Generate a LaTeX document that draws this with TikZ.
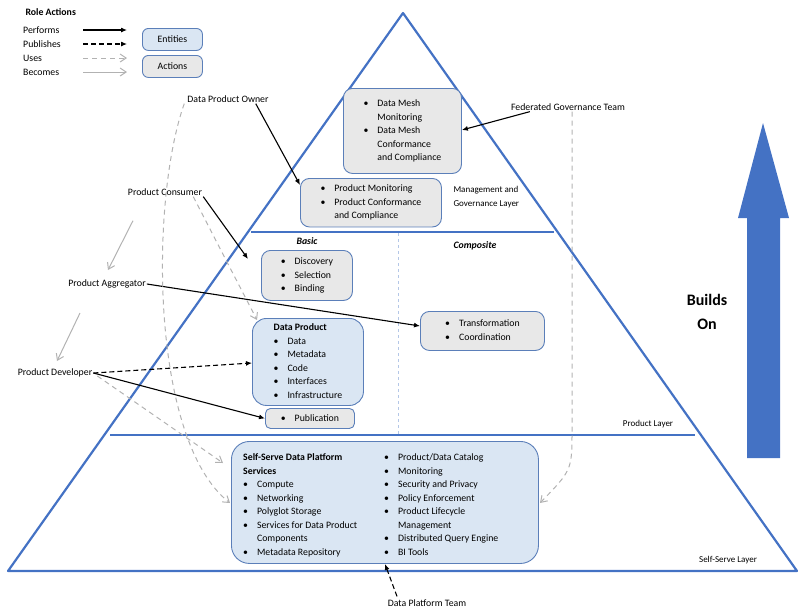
\documentclass[tikz,border=0pt]{standalone}
\usepackage{fontspec}
\setmainfont{Carlito}
\usetikzlibrary{arrows.meta,shapes.arrows}
\definecolor{tri}{HTML}{4472C4}
\definecolor{ent}{HTML}{DAE6F3}
\definecolor{act}{HTML}{E8E8E8}
\definecolor{bord}{HTML}{5B7FB9}
\newcommand{\bl}[1]{\textbullet&#1\\}
\newenvironment{bul}{\begin{tabular}{@{}l@{\hspace{9pt}}l@{}}}{\end{tabular}}
\begin{document}
\begin{tikzpicture}[x=1pt,y=-1pt,
  every node/.style={font=\fontsize{9.8}{13.5}\selectfont},
  box/.style={draw=bord,line width=0.9pt,rounded corners=9pt,inner sep=3pt,anchor=north west},
  ent/.style={box,fill=ent},
  act/.style={box,fill=act},
  perf/.style={-{Latex[length=6pt,width=5pt]},line width=1.1pt},
  pub/.style={perf,dashed,dash pattern=on 5pt off 3pt},
  uses/.style={-{Straight Barb[length=6pt,width=8pt]},gray!60,line width=1pt,dash pattern=on 5pt off 4pt},
  becomes/.style={-{Straight Barb[length=6pt,width=8pt]},gray!60,line width=1pt},
  lbl/.style={inner sep=1pt}]
\useasboundingbox (0,0) rectangle (802,614);
% pyramid
\draw[tri,line width=2.2pt,line join=round] (403,13) -- (797,571) -- (8,571) -- cycle;
\draw[tri,line width=2.2pt] (251,232) -- (554,232);
\draw[tri,line width=2.2pt] (110,435) -- (695,435);
\draw[tri!40,dashed,line width=0.8pt] (398,233) -- (398,434);
% legend
\node[anchor=west,font=\fontsize{9.8}{12}\selectfont\bfseries] (leg) at (22,12) {Role Actions};
\node[anchor=west,lbl] (lp) at (22,30) {Performs};
\node[anchor=west,lbl] (lb) at (22,44) {Publishes};
\node[anchor=west,lbl] (lu) at (22,58) {Uses};
\node[anchor=west,lbl] (lbc) at (22,72) {Becomes};
\coordinate (a1) at (83,30); \coordinate (b1) at (127,30);
\coordinate (a2) at (83,44); \coordinate (b2) at (127,44);
\coordinate (a3) at (83,58); \coordinate (b3) at (127,58);
\coordinate (a4) at (83,72); \coordinate (b4) at (127,72);
\draw[perf] (a1) -- (b1); \draw[pub] (a2) -- (b2);
\draw[uses] (a3) -- (b3); \draw[becomes] (a4) -- (b4);
\node[ent,minimum width=60pt,minimum height=22pt,rounded corners=6pt] (le) at (142,28) {};
\node at (le.center) {Entities};
\node[act,minimum width=60pt,minimum height=22pt,rounded corners=6pt] (la) at (142,55) {};
\node at (la.center) {Actions};
% boxes
\node[act,minimum width=118pt,minimum height=85pt,inner sep=6pt] (mesh) at (343,88) {\begin{bul}\bl{Data Mesh}&Monitoring\\\bl{Data Mesh}&Conformance\\&and Compliance\\\end{bul}};
\node[act,minimum width=141pt,minimum height=47pt,inner sep=4pt] (pm) at (300,178) {\begin{bul}\bl{Product Monitoring}\bl{Product Conformance}&and Compliance\\\end{bul}};
\node[act,minimum width=91pt,minimum height=50pt,inner sep=4pt] (disc) at (261,250) {\begin{bul}\bl{Discovery}\bl{Selection}\bl{Binding}\end{bul}};
\node[ent,minimum width=111pt,minimum height=87pt,inner sep=1pt,rounded corners=14pt] (dp) at (252,318) {\begin{tabular}{@{}l@{}}\textbf{Data Product}\\\begin{bul}\bl{Data}\bl{Metadata}\bl{Code}\bl{Interfaces}\bl{Infrastructure}\end{bul}\end{tabular}};
\node[act,minimum width=89pt,minimum height=20pt,inner sep=1pt,rounded corners=5pt] (publ) at (265,408) {\begin{bul}\bl{Publication}\end{bul}};
\node[act,minimum width=124pt,minimum height=39pt,inner sep=4pt] (trans) at (420,311) {\begin{bul}\bl{Transformation}\bl{Coordination}\end{bul}};
\node[ent,minimum width=307pt,minimum height=122pt,rounded corners=18pt] (ss) at (231,441) {};
\node[anchor=north west,inner sep=0pt,align=left] (ssl) at (243,451) {\begin{tabular}{@{}l@{\hspace{9pt}}l@{}}\multicolumn{2}{@{}l}{\textbf{Self-Serve Data Platform}}\\\multicolumn{2}{@{}l}{\textbf{Services}}\\\bl{Compute}\bl{Networking}\bl{Polyglot Storage}\bl{Services for Data Product}&Components\\\bl{Metadata Repository}\end{tabular}};
\node[anchor=north west,inner sep=0pt,align=left] (ssr) at (384,451) {\begin{tabular}{@{}l@{\hspace{9pt}}l@{}}\bl{Product/Data Catalog}\bl{Monitoring}\bl{Security and Privacy}\bl{Policy Enforcement}\bl{Product Lifecycle}&Management\\\bl{Distributed Query Engine}\bl{BI Tools}\end{tabular}};
% layer labels
\node[anchor=west,align=left,font=\fontsize{9}{13.5}\selectfont] (mg) at (450,197) {Management and\\Governance Layer};
\node[font=\fontsize{9.8}{12}\selectfont\bfseries\itshape] (basic) at (307,241) {Basic};
\node[font=\fontsize{9.8}{12}\selectfont\bfseries\itshape] (comp) at (475,246) {Composite};
\node[font=\fontsize{9}{11}\selectfont] (pl) at (648,424) {Product Layer};
\node[font=\fontsize{9}{11}\selectfont] (sl) at (728,560) {Self-Serve Layer};
% builds on
\fill[tri] (747,458) -- (747,218) -- (738,218) -- (763,123) -- (789,218) -- (780,218) -- (780,458) -- cycle;
\node[font=\fontsize{16}{24}\selectfont\bfseries,align=center] (bo) at (707,312) {Builds\\On};
% roles
\node[lbl] (dpo) at (228,99) {Data Product Owner};
\node[lbl] (fgt) at (568,107) {Federated Governance Team};
\node[lbl] (pc) at (165,192) {Product Consumer};
\node[lbl] (pa) at (107,284) {Product Aggregator};
\node[lbl] (pd) at (55,373) {Product Developer};
\node[lbl] (dpt) at (427,603) {Data Platform Team};
% connectors
\draw[perf] (dpo.south east) ++(-14,0) -- (pm.west |- 0,185);
\draw[perf] (fgt.south west) ++(20,0) -- (mesh.east |- 0,130);
\draw[perf] (pc.south east) -- (248,259);
\draw[uses] (pc.south east) ++(-10,0) -- (257,320);
\draw[becomes] (pc.south) ++(-32,24) -- (108,270);
\draw[becomes] (80,313) -- (57,361);
\draw[perf] (pa.east) -- (trans.west |- 0,326);
\draw[pub] (pd.east) -- (dp.west |- 0,363);
\draw[perf] (pd.east) -- (publ.west);
\draw[uses] (pd.east) ++(4,3) -- (223,463);
\draw[uses] (dpo.south west) ++(-2,0) .. controls (150,200) and (150,440) .. (230,503);
\draw[uses] (fgt.south) ++(4,0) -- (572,430) .. controls (572,470) .. (540,503);
\draw[pub] (dpt.north) ++(-30,-2) -- (385,564);
\end{tikzpicture}
\end{document}
